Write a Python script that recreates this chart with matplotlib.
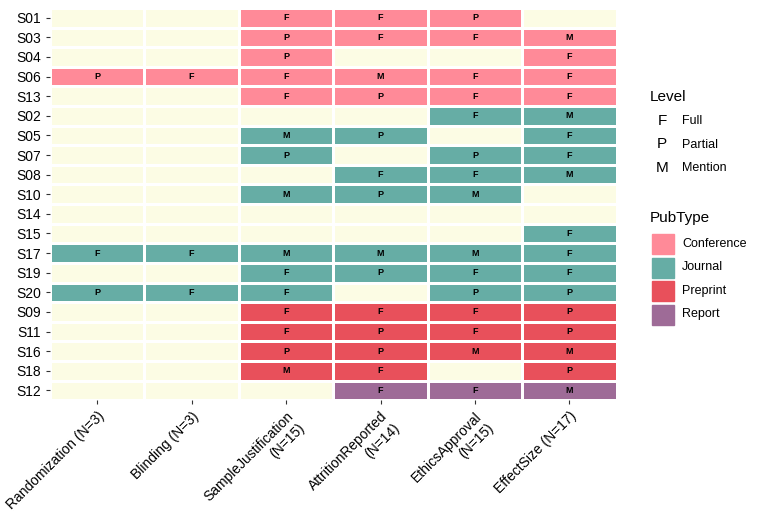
import matplotlib.pyplot as plt
import matplotlib.patches as mpatches
from matplotlib.colors import ListedColormap
import numpy as np

plt.rcParams['font.family'] = ['Liberation Sans', 'DejaVu Sans']

studies = ["S01", "S03", "S04", "S06", "S13", "S02", "S05", "S07", "S08", "S10",
           "S14", "S15", "S17", "S19", "S20", "S09", "S11", "S16", "S18", "S12"]
pubtype = ["Conference"] * 5 + ["Journal"] * 10 + ["Preprint"] * 4 + ["Report"]
columns = ["Randomization (N=3)", "Blinding (N=3)", "SampleJustification\n(N=15)",
           "AttritionReported\n(N=14)", "EthicsApproval\n(N=15)", "EffectSize (N=17)"]
levels = [
    ["", "", "F", "F", "P", ""],
    ["", "", "P", "F", "F", "M"],
    ["", "", "P", "", "", "F"],
    ["P", "F", "F", "M", "F", "F"],
    ["", "", "F", "P", "F", "F"],
    ["", "", "", "", "F", "M"],
    ["", "", "M", "P", "", "F"],
    ["", "", "P", "", "P", "F"],
    ["", "", "", "F", "F", "M"],
    ["", "", "M", "P", "M", ""],
    ["", "", "", "", "", ""],
    ["", "", "", "", "", "F"],
    ["F", "F", "M", "M", "M", "F"],
    ["", "", "F", "P", "F", "F"],
    ["P", "F", "F", "", "P", "P"],
    ["", "", "F", "F", "F", "P"],
    ["", "", "F", "P", "F", "P"],
    ["", "", "P", "P", "M", "M"],
    ["", "", "M", "F", "", "P"],
    ["", "", "", "F", "F", "M"],
]

types = ["Conference", "Journal", "Preprint", "Report"]
colors = ["#FCFCE4", "#FF8A98", "#66ADA5", "#E8505B", "#9E6B97"]

grid = np.array([[0 if v == "" else types.index(pubtype[i]) + 1 for v in row]
                 for i, row in enumerate(levels)])

fig = plt.figure(figsize=(7.68, 5.28), dpi=100)
ax = fig.add_axes([0.065, 0.242, 0.738, 0.743])
ax.pcolormesh(grid, cmap=ListedColormap(colors), vmin=-0.5, vmax=4.5,
              edgecolors="white", linewidth=0.8)
for i, row in enumerate(levels):
    for j, v in enumerate(row):
        if v:
            ax.text(j + 0.5, i + 0.5, v, ha="center", va="center",
                    fontsize=6.5, fontweight="bold")
ax.set_xlim(0, len(columns))
ax.set_ylim(len(studies), 0)
ax.set_xticks(np.arange(len(columns)) + 0.5)
ax.set_xticklabels(columns, rotation=45, ha="right", rotation_mode="anchor", fontsize=10)
ax.set_yticks(np.arange(len(studies)) + 0.5)
ax.set_yticklabels(studies, fontsize=10)
ax.tick_params(length=3, color="#333333")
for s in ax.spines.values():
    s.set_visible(False)

# legends drawn by hand, ggplot style
W, H = 768, 528
fig.text(650 / W, 1 - 97 / H, "Level", fontsize=11, va="center")
for k, (a, b) in enumerate([("F", "Full"), ("P", "Partial"), ("M", "Mention")]):
    y = 1 - (121 + k * 23.5) / H
    fig.text(662 / W, y, a, fontsize=11, ha="center", va="center")
    fig.text(682 / W, y, b, fontsize=9, va="center")
fig.text(650 / W, 1 - 218 / H, "PubType", fontsize=11, va="center")
for k, t in enumerate(types):
    yc = 244 + k * 23.5
    fig.add_artist(mpatches.Rectangle((652 / W, 1 - (yc + 10) / H), 22 / W, 20 / H,
                                      color=colors[k + 1], transform=fig.transFigure))
    fig.text(682 / W, 1 - yc / H, t, fontsize=9, va="center")

fig.savefig("out.png", dpi=100)
